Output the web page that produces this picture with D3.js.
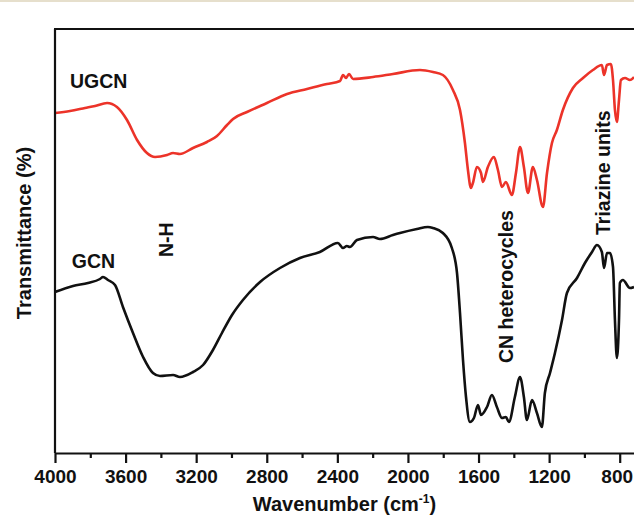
<!DOCTYPE html>
<html>
<head>
<meta charset="utf-8">
<script src="https://cdn.jsdelivr.net/npm/d3@7"></script>
<style>
  body { margin: 0; background: #fff; }
  svg text { font-family: "Liberation Sans", Arial, sans-serif; font-weight: bold; fill: #111; }
</style>
</head>
<body>
<div id="chart"></div>
<script>
// FTIR spectra: wavenumber (cm-1) and transmittance (arbitrary %)
var ugcnWave = [4000, 3915, 3830, 3773, 3705, 3649, 3592, 3535, 3479, 3433, 3365, 3331, 3292, 3218, 3139, 3082, 3025, 2991, 2912, 2799, 2685, 2572, 2459, 2385, 2368, 2351, 2334, 2311, 2198, 2085, 1932, 1858, 1802, 1745, 1705, 1677, 1660, 1643, 1632, 1609, 1586, 1575, 1547, 1513, 1490, 1467, 1445, 1411, 1388, 1365, 1343, 1320, 1292, 1269, 1235, 1212, 1184, 1156, 1122, 1065, 1008, 952, 901, 889, 872, 850, 838, 827, 816, 804, 793, 770, 742, 719];
var ugcnT = [85, 85.5, 86.25, 86.75, 87.5, 86.5, 83.25, 78.25, 75, 74, 74.5, 75, 74.75, 76.25, 77.75, 79.25, 82, 83.5, 85.25, 87.5, 89.75, 91, 92.25, 93, 94.5, 93.75, 94.75, 93.5, 94, 94.75, 95.75, 95.25, 94.5, 90.75, 85.75, 77.5, 70.75, 66.25, 67.5, 71.5, 70, 67.75, 71.5, 74, 70.75, 66.5, 67.75, 64.5, 70, 76.5, 71.5, 65, 71.5, 68.25, 61.5, 70, 77.5, 80.75, 85.75, 91.25, 93.75, 95.75, 97, 94.5, 97, 97.25, 93.25, 85.75, 82.75, 88.25, 93.25, 93.75, 93.25, 94];

var gcnWave = [4000, 3898, 3813, 3745, 3728, 3700, 3660, 3615, 3558, 3501, 3445, 3405, 3331, 3292, 3218, 3161, 3105, 3054, 2997, 2935, 2838, 2725, 2612, 2499, 2397, 2368, 2346, 2329, 2289, 2198, 2159, 2085, 2045, 1949, 1887, 1858, 1802, 1751, 1722, 1705, 1688, 1671, 1649, 1626, 1603, 1586, 1552, 1524, 1496, 1467, 1445, 1428, 1394, 1365, 1343, 1326, 1297, 1269, 1241, 1224, 1195, 1167, 1127, 1099, 1042, 997, 957, 929, 901, 889, 872, 855, 838, 827, 816, 804, 799, 782, 742, 719];
var gcnT = [40.25, 41.75, 42.5, 43.5, 44, 43.25, 42, 36.5, 30, 24, 20, 19.25, 19.5, 19, 20.25, 22, 25.75, 30, 34.5, 38.25, 42.75, 46.25, 48.75, 50.25, 52.5, 51.25, 51.75, 51.5, 53.25, 54, 53.5, 54.5, 55, 56, 56.5, 56.25, 55, 51.25, 45, 35, 23.25, 14, 7.75, 8.75, 12, 9.5, 11.5, 14.5, 11.5, 8.75, 9, 7.75, 14, 19, 14, 8.25, 13.25, 10, 6.5, 15, 20, 25, 33.25, 40, 43.75, 47.5, 50.25, 52, 50.25, 46.25, 50, 50, 46.5, 33.25, 23.75, 33.25, 42.5, 43.25, 41.25, 41.5];

var majorTicks = [4000, 3600, 3200, 2800, 2400, 2000, 1600, 1200, 800];
var minorTicks = [3800, 3400, 3000, 2600, 2200, 1800, 1400, 1000];

var annotations = [
  { text: "UGCN", w: 3915, t: 91.25, rot: false },
  { text: "GCN", w: 3905, t: 46.25, rot: false },
  { text: "N-H", w: 3331, t: 49, rot: true },
  { text: "CN heterocycles", w: 1405, t: 22.5, rot: true },
  { text: "Triazine units", w: 855, t: 54.5, rot: true }
];

var W = 634, H = 517;
var margin = { left: 55, right: 0, top: 29, bottom: 64 };

var svg = d3.select("#chart").append("svg")
  .attr("width", W).attr("height", H);

// thin beige strip along the top edge of the source picture
svg.append("rect").attr("x", 0).attr("y", 0).attr("width", W).attr("height", 2).attr("fill", "#e6dfcc");

var x = d3.scaleLinear().domain([4000, 719]).range([margin.left, W - margin.right]);
var y = d3.scaleLinear().domain([0, 106]).range([H - margin.bottom, margin.top]);

svg.append("clipPath").attr("id", "plotclip")
  .append("rect").attr("x", margin.left).attr("y", margin.top)
  .attr("width", W - margin.left).attr("height", H - margin.bottom - margin.top);

function toPoints(ws, ts) {
  return ws.map(function (w, i) { return [w, ts[i]]; });
}

var line = d3.line()
  .x(function (d) { return x(d[0]); })
  .y(function (d) { return y(d[1]); })
  .curve(d3.curveMonotoneX);

var plot = svg.append("g").attr("clip-path", "url(#plotclip)");

plot.append("path")
  .datum(toPoints(ugcnWave, ugcnT))
  .attr("d", line)
  .attr("fill", "none")
  .attr("stroke", "#ec3329")
  .attr("stroke-width", 2.6)
  .attr("stroke-linejoin", "round");

plot.append("path")
  .datum(toPoints(gcnWave, gcnT))
  .attr("d", line)
  .attr("fill", "none")
  .attr("stroke", "#111")
  .attr("stroke-width", 2.6)
  .attr("stroke-linejoin", "round");

// frame: left and top borders
svg.append("line")
  .attr("x1", margin.left).attr("x2", margin.left)
  .attr("y1", margin.top).attr("y2", y(0))
  .attr("stroke", "#111").attr("stroke-width", 2.2);
svg.append("line")
  .attr("x1", margin.left - 1).attr("x2", W)
  .attr("y1", margin.top).attr("y2", margin.top)
  .attr("stroke", "#111").attr("stroke-width", 2.2);

// bottom axis with major and minor ticks
var xAxis = svg.append("g")
  .attr("transform", "translate(0," + y(0) + ")")
  .call(d3.axisBottom(x).tickValues(majorTicks).tickSize(10).tickSizeOuter(0)
    .tickPadding(7).tickFormat(d3.format("d")));
xAxis.select(".domain").attr("stroke", "#111").attr("stroke-width", 2.2);
xAxis.selectAll(".tick line").attr("stroke", "#111").attr("stroke-width", 2.2);
xAxis.selectAll(".tick text")
  .style("font-family", '"Liberation Sans", Arial, sans-serif')
  .style("font-weight", "bold")
  .style("font-size", "19px")
  .attr("fill", "#111");
// last label sits against the right edge, nudge it in a little
xAxis.selectAll(".tick text").filter(function (d) { return d === 800; }).attr("dx", -3);

var xMinor = svg.append("g")
  .attr("transform", "translate(0," + y(0) + ")")
  .call(d3.axisBottom(x).tickValues(minorTicks).tickSize(5).tickFormat(""));
xMinor.select(".domain").remove();
xMinor.selectAll(".tick line").attr("stroke", "#111").attr("stroke-width", 2.2);

// axis titles
var xt = svg.append("text")
  .attr("x", (margin.left + W) / 2)
  .attr("y", 511)
  .attr("text-anchor", "middle")
  .style("font-size", "20px");
xt.append("tspan").text("Wavenumber (cm");
xt.append("tspan").text("-1").attr("dy", -8).style("font-size", "12px");
xt.append("tspan").text(")").attr("dy", 8);

svg.append("text")
  .attr("transform", "translate(31,233) rotate(-90)")
  .attr("text-anchor", "middle")
  .style("font-size", "20px")
  .text("Transmittance (%)");

// in-plot labels
annotations.forEach(function (a) {
  var t = svg.append("text").style("font-size", "19.5px").text(a.text);
  if (a.rot) {
    t.attr("transform", "translate(" + x(a.w) + "," + y(a.t) + ") rotate(-90)");
  } else {
    t.attr("x", x(a.w)).attr("y", y(a.t));
  }
});
</script>
</body>
</html>
